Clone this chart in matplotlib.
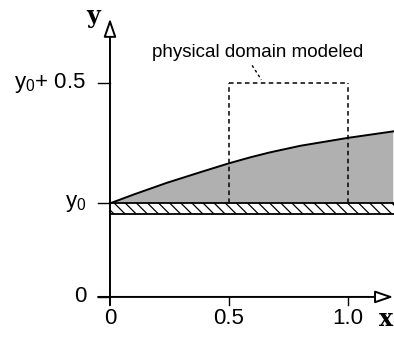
import matplotlib
matplotlib.use('Agg')
import matplotlib.pyplot as plt
import numpy as np

# data (in x units, y0 offset units)
y0 = 0.39
band = 0.045
curve_x = [0.0, 0.10, 0.24, 0.38, 0.50, 0.59, 0.67, 0.80, 1.0, 1.19]
curve_h = [0.0, 0.037, 0.086, 0.130, 0.167, 0.192, 0.212, 0.240, 0.273, 0.30]
box_x = [0.5, 1.0]
box_top = y0 + 0.5
xticks = [0.5, 1.0]
xtick_labels = ['0', '0.5', '1.0']
ytick_vals = [0, y0, y0 + 0.5]
ytick_labels = ['0', r'$\mathregular{y_0}$', r'$\mathregular{y_0}$+ 0.5']

plt.rcParams['font.family'] = ['Liberation Sans', 'DejaVu Sans']
plt.rcParams['hatch.linewidth'] = 0.9

fig = plt.figure(figsize=(3.94, 3.37), dpi=100)
ax = fig.add_axes([0, 0, 1, 1])
ax.set_xlim(-0.462, 1.193)
ax.set_ylim(-0.167, 1.2375)
ax.axis('off')

cx = np.array(curve_x)
ch = np.array(curve_h)

# shaded region above y0
ax.fill_between(cx, y0, y0 + ch, facecolor='#b0b0b0', edgecolor='none', zorder=1)
ax.plot(cx, y0 + ch, color='k', lw=1.4, zorder=3)

# hatched band below y0
ax.fill_between([0, 1.2], y0 - band, y0, facecolor='white', edgecolor='k',
                hatch='\\\\\\', lw=0, zorder=1)
ax.plot([0, 1.2], [y0, y0], color='k', lw=1.3, zorder=3)
ax.plot([0, 1.2], [y0 - band, y0 - band], color='k', lw=1.3, zorder=3)

# dashed "physical domain" box
dash = dict(color='k', lw=1.1, ls=(0, (3, 2.2)), zorder=4)
ax.plot([box_x[0], box_x[0]], [y0, box_top], **dash)
ax.plot([box_x[1], box_x[1]], [y0, box_top], **dash)
ax.plot(box_x, [box_top, box_top], **dash)
ax.plot([0.597, 0.636], [0.965, 0.905], color='k', lw=1.0, ls=(0, (2, 2)))
ax.text(0.622, 1.02, 'physical domain modeled', fontsize=13.5,
        ha='center', va='center')

# axes with open arrow heads
arr = dict(arrowstyle='-|>,head_length=1.1,head_width=0.38', fc='white',
           ec='k', lw=1.4, shrinkA=0, shrinkB=0)
ax.annotate('', xy=(1.19, 0), xytext=(-0.05, 0), arrowprops=arr, zorder=5)
ax.annotate('', xy=(0, 1.16), xytext=(0, -0.035), arrowprops=arr, zorder=5)

# ticks
for xv in xticks:
    ax.plot([xv, xv], [0, -0.035], color='k', lw=1.0)
for yv in ytick_vals:
    ax.plot([-0.05, 0], [yv, yv], color='k', lw=1.0)

for xv, lab in zip([0] + xticks, xtick_labels):
    ax.text(xv, -0.088, lab, fontsize=16, ha='center', va='center')
for yv, lab in zip(ytick_vals, ytick_labels):
    ax.text(-0.1, yv, lab, fontsize=16, ha='right', va='center')

ax.text(-0.042, 1.17, 'y', fontsize=17, fontweight='bold', family='DejaVu Serif',
        ha='right', va='center')
ax.text(1.188, -0.09, 'x', fontsize=17, fontweight='bold', family='DejaVu Serif',
        ha='right', va='center')

fig.savefig('out.png', dpi=100)
